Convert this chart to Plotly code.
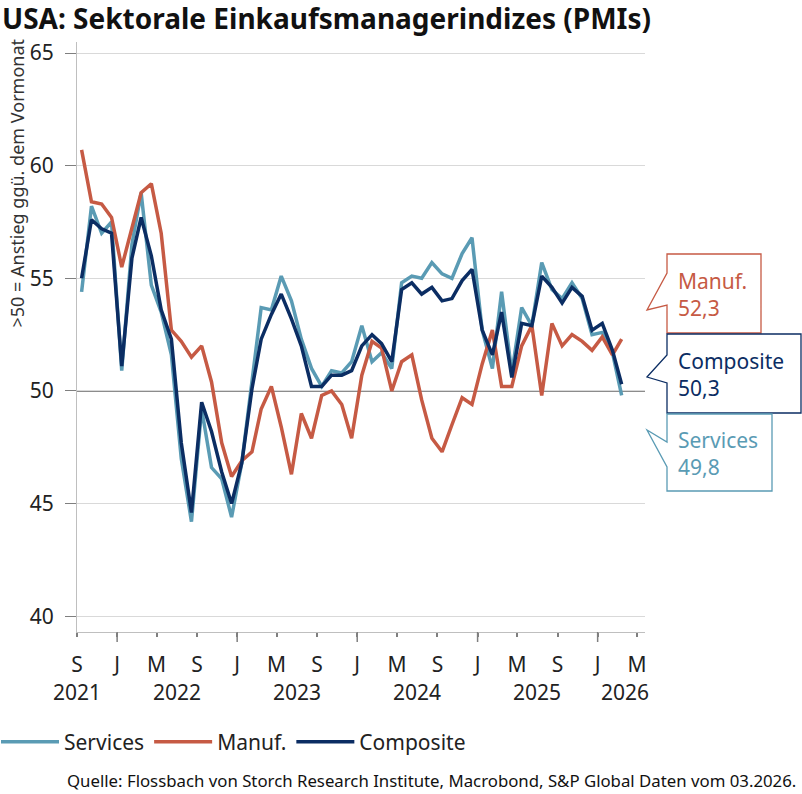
import pandas as pd
import plotly.graph_objects as go

# ---------------- data (Sep 2021 – Mar 2026, monthly) ----------------
months = pd.date_range("2021-09-01", periods=55, freq="MS")

services = [54.4, 58.2, 57.0, 57.5,
            50.9, 56.5, 58.8, 54.7, 53.5, 51.6, 47.0, 44.2, 49.2, 46.6, 46.1, 44.4,
            46.8, 50.4, 53.7, 53.6, 55.1, 54.0, 52.3, 51.0, 50.2, 50.9, 50.8, 51.3,
            52.9, 51.3, 51.7, 51.0, 54.8, 55.1, 55.0, 55.7, 55.2, 55.0, 56.1, 56.8,
            52.7, 51.0, 54.4, 50.8, 53.7, 52.9, 55.7, 54.5, 54.1, 54.8, 54.1, 52.5,
            52.6, 51.7, 49.8]

manuf = [60.7, 58.4, 58.3, 57.7,
         55.5, 57.3, 58.8, 59.2, 57.0, 52.7, 52.2, 51.5, 52.0, 50.4, 47.7, 46.2,
         46.9, 47.3, 49.2, 50.2, 48.4, 46.3, 49.0, 47.9, 49.8, 50.0, 49.4, 47.9,
         50.7, 52.2, 51.9, 50.0, 51.3, 51.6, 49.6, 47.9, 47.3, 48.5, 49.7, 49.4,
         51.2, 52.7, 50.2, 50.2, 52.0, 52.9, 49.8, 53.0, 52.0, 52.5, 52.2, 51.8,
         52.4, 51.6, 52.3]

composite = [55.0, 57.6, 57.2, 57.0,
             51.1, 55.9, 57.7, 56.0, 53.6, 52.3, 47.7, 44.6, 49.5, 48.2, 46.4, 45.0,
             46.8, 50.1, 52.3, 53.4, 54.3, 53.2, 52.0, 50.2, 50.2, 50.7, 50.7, 50.9,
             52.0, 52.5, 52.1, 51.3, 54.5, 54.8, 54.3, 54.6, 54.0, 54.1, 54.9, 55.4,
             52.7, 51.6, 53.5, 50.6, 53.0, 52.9, 55.1, 54.6, 53.9, 54.6, 54.2, 52.7,
             53.0, 51.8, 50.3]

tick_dates = pd.date_range("2021-09-01", "2026-05-01", freq="4MS")
tick_labels = ["S", "J", "M", "S", "J", "M", "S", "J", "M", "S", "J", "M", "S", "J", "M"]
year_labels = ["2021", "2022", "2023", "2024", "2025", "2026"]
year_pos = ["2021-09-01", "2022-07-01", "2023-07-01", "2024-07-01", "2025-07-01", "2026-03-24"]
long_tick_dates = ["2022-01-01", "2023-01-01", "2024-01-01", "2025-01-01", "2026-01-01"]

y_ticks = [40, 45, 50, 55, 60, 65]

C_SERV = "#5A9BB4"
C_MANU = "#C65A44"
C_COMP = "#0B2D63"
FONT = "Noto Sans"

x_mid = months + pd.Timedelta(days=14)

# ---------------- layout geometry (pixels) ----------------
W, H = 802, 794
L, R, T, B = 77, 645, 42, 632


def px(x):
    return (x - L) / (R - L)


def py(y):
    return (B - y) / (B - T)


fig = go.Figure()
fig.add_trace(go.Scatter(x=x_mid, y=services, name="Services", mode="lines",
                         line=dict(color=C_SERV, width=3.5), legendrank=1))
fig.add_trace(go.Scatter(x=x_mid, y=manuf, name="Manuf.", mode="lines",
                         line=dict(color=C_MANU, width=3.5), legendrank=2))
fig.add_trace(go.Scatter(x=x_mid, y=composite, name="Composite", mode="lines",
                         line=dict(color=C_COMP, width=3.5), legendrank=3))

shapes = []
# 50 reference line
shapes.append(dict(type="line", xref="paper", yref="y", x0=0, x1=1, y0=50, y1=50,
                   line=dict(color="#8C8C8C", width=2), layer="below"))
# long ticks at January
for d in long_tick_dates:
    shapes.append(dict(type="line", xref="x", yref="paper", x0=d, x1=d,
                       y0=0, y1=-10 / (B - T), line=dict(color="#7F7F7F", width=1.5)))

# callout boxes
callouts = [
    ("Manuf.", manuf[-1], C_MANU, (667, 761, 254, 333), (273, 647, 310, 305)),
    ("Composite", composite[-1], C_COMP, (667, 801, 334, 413), (355, 647, 377, 383)),
    ("Services", services[-1], C_SERV, (667, 772, 414, 491), (442, 647, 430, 467)),
]
annotations = []
for name, val, col, (bl, br, bt, bb), (wt, tx, ty, wb) in callouts:
    path = (f"M{px(bl)},{py(bt)} L{px(br)},{py(bt)} L{px(br)},{py(bb)} L{px(bl)},{py(bb)} "
            f"L{px(bl)},{py(wb)} L{px(tx)},{py(ty)} L{px(bl)},{py(wt)} Z")
    shapes.append(dict(type="path", xref="paper", yref="paper", path=path,
                       fillcolor="white", line=dict(color=col, width=1.3)))
    annotations.append(dict(xref="paper", yref="paper", x=px(676), y=py((bt + bb) / 2 + 1),
                            xanchor="left", yanchor="middle", align="left", showarrow=False,
                            text=name + "<br>" + f"{val:.1f}".replace(".", ","),
                            font=dict(family=FONT, size=21, color=col)))

# year labels
for yl, yp in zip(year_labels, year_pos):
    annotations.append(dict(xref="x", yref="paper", x=yp, y=py(692), text=yl,
                            showarrow=False, xanchor="center", yanchor="middle",
                            font=dict(family=FONT, size=21, color="#222222")))

# y axis title
annotations.append(dict(xref="paper", yref="paper", x=px(16), y=py(37),
                        text=">50 = Anstieg ggü. dem Vormonat", textangle=-90,
                        showarrow=False, xanchor="center", yanchor="top",
                        font=dict(family=FONT, size=18, color="#333333")))
# source
annotations.append(dict(xref="paper", yref="paper", x=px(798), y=py(780),
                        text="Quelle: Flossbach von Storch Research Institute, Macrobond, S&P Global Daten vom 03.2026.",
                        showarrow=False, xanchor="right", yanchor="middle",
                        font=dict(family=FONT, size=16.8, color="#111111")))

fig.update_layout(
    width=W, height=H,
    margin=dict(l=L, r=W - R, t=T, b=H - B, pad=0, autoexpand=False),
    paper_bgcolor="white", plot_bgcolor="white",
    font=dict(family=FONT, color="#222222"),
    title=dict(text="<b>USA: Sektorale Einkaufsmanagerindizes (PMIs)</b>",
               x=2 / W, xanchor="left", y=1 - 19 / H, yanchor="middle",
               pad=dict(t=0, l=0, b=0, r=0),
               font=dict(family=FONT, size=28, color="#111111")),
    showlegend=True,
    legend=dict(orientation="h", x=px(-4), xanchor="left", y=py(742), yanchor="middle",
                font=dict(family=FONT, size=21, color="#222222"),
                bgcolor="rgba(0,0,0,0)", itemwidth=58, tracegroupgap=0),
    shapes=shapes,
    annotations=annotations,
    xaxis=dict(type="date", range=["2021-09-01", "2026-05-25"],
               tickmode="array", tickvals=list(tick_dates), ticktext=tick_labels,
               ticks="outside", ticklen=4, tickcolor="#7F7F7F", tickwidth=1.5,
               showline=True, linecolor="#BFBFBF", linewidth=1,
               showgrid=False, zeroline=False, ticklabelstandoff=10, automargin=False,
               tickfont=dict(family=FONT, size=21, color="#222222")),
    yaxis=dict(range=[39.3, 65.49], tickmode="array", tickvals=y_ticks,
               ticks="outside", ticklen=11, tickcolor="#7F7F7F",
               showline=True, linecolor="#BFBFBF", linewidth=1,
               showgrid=True, gridcolor="#D9D9D9", gridwidth=1, zeroline=False,
               ticklabelstandoff=7, automargin=False,
               tickfont=dict(family=FONT, size=21, color="#222222")),
)

fig.write_html("out.html", post_script="document.body.style.margin='0';",
               config={"displayModeBar": False})
